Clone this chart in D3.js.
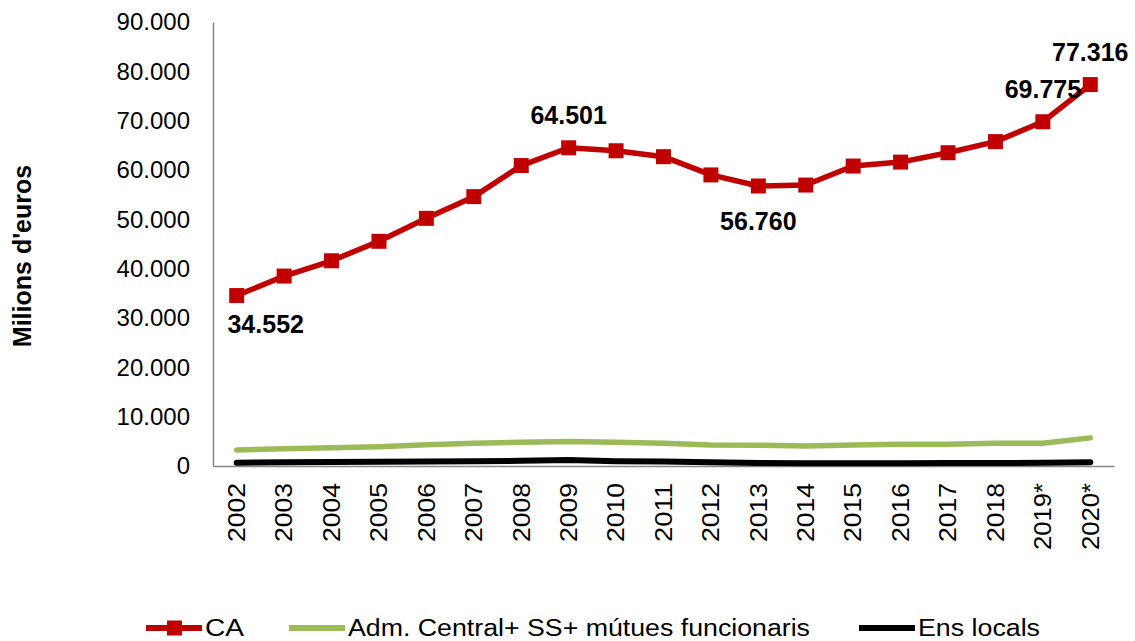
<!DOCTYPE html>
<html>
<head>
<meta charset="utf-8">
<script src="https://cdn.jsdelivr.net/npm/d3@7"></script>
<style>
  body { margin: 0; background: #fff; }
  text { font-family: Arial, "Liberation Sans", sans-serif; }
</style>
</head>
<body>
<div id="chart"></div>
<script>
// data
var years = ["2002","2003","2004","2005","2006","2007","2008","2009","2010","2011",
             "2012","2013","2014","2015","2016","2017","2018","2019*","2020*"];
var caValues = [34552, 38500, 41600, 45550, 50200, 54600, 60900, 64501, 63900, 62700,
                59000, 56760, 56950, 60800, 61600, 63500, 65750, 69775, 77316];
var admValues = [3250, 3500, 3700, 3900, 4300, 4600, 4800, 4950, 4800, 4600,
                 4250, 4200, 4050, 4250, 4400, 4400, 4600, 4600, 5700];
var ensValues = [650, 750, 800, 850, 900, 950, 1050, 1200, 950, 900,
                 750, 600, 550, 550, 550, 600, 600, 650, 750];
var yTicks = [0, 10000, 20000, 30000, 40000, 50000, 60000, 70000, 80000, 90000];
var seriesNames = ["CA", "Adm. Central+ SS+ mútues funcionaris", "Ens locals"];
var seriesColors = ["#c00000", "#9bbb59", "#000000"];
// which CA points get a label, and where the label goes
var labelIdx = [0, 7, 11, 17, 18];
var labelPos = ["below", "above", "below", "above", "above"];

var W = 1135, H = 641;
var margin = {top: 22, right: 21, bottom: 175, left: 213};

var svg = d3.select("#chart").append("svg")
    .attr("width", W)
    .attr("height", H);

var x = d3.scaleBand()
    .domain(years)
    .range([margin.left, W - margin.right]);

var y = d3.scaleLinear()
    .domain([0, 90000])
    .range([H - margin.bottom, margin.top]);

var fmt = function(v) { return d3.format(",")(v).replace(/,/g, "."); };
var cx = function(d, i) { return x(years[i]) + x.bandwidth() / 2; };

// y axis
var yAxis = svg.append("g")
    .attr("transform", "translate(" + margin.left + ",0)")
    .call(d3.axisLeft(y).tickValues(yTicks).tickFormat(fmt).tickSize(0).tickPadding(23));
yAxis.select(".domain").attr("stroke", "#868686").attr("stroke-width", 1.5);
yAxis.selectAll("text").style("font-size", "24px").attr("fill", "#000");

// x axis
var xAxis = svg.append("g")
    .attr("transform", "translate(0," + y(0) + ")")
    .call(d3.axisBottom(x).tickSize(0));
xAxis.select(".domain").attr("stroke", "#868686").attr("stroke-width", 1.5);
xAxis.selectAll("text")
    .style("font-size", "23px")
    .attr("fill", "#000")
    .attr("text-anchor", "end")
    .attr("transform", "rotate(-90)")
    .attr("x", -17)
    .attr("y", 0)
    .attr("dy", "0.36em")
    .attr("textLength", function(d) { return d.length > 4 ? 67 : 59; })
    .attr("lengthAdjust", "spacingAndGlyphs");

// y title
svg.append("text")
    .attr("transform", "translate(31,256) rotate(-90)")
    .attr("text-anchor", "middle")
    .style("font-size", "25px")
    .style("font-weight", "bold")
    .text("Milions d'euros");

var line = d3.line()
    .x(cx)
    .y(function(d) { return y(d); });

svg.append("path").datum(ensValues)
    .attr("d", line).attr("fill", "none")
    .attr("stroke", seriesColors[2]).attr("stroke-width", 6).attr("stroke-linejoin", "round")
    .attr("stroke-linecap", "round");

svg.append("path").datum(admValues)
    .attr("d", line).attr("fill", "none")
    .attr("stroke", seriesColors[1]).attr("stroke-width", 5.5).attr("stroke-linejoin", "round")
    .attr("stroke-linecap", "round");

svg.append("path").datum(caValues)
    .attr("d", line).attr("fill", "none")
    .attr("stroke", seriesColors[0]).attr("stroke-width", 5.5).attr("stroke-linejoin", "round");

svg.append("g").selectAll("rect")
    .data(caValues)
    .enter().append("rect")
    .attr("x", function(d, i) { return cx(d, i) - 7.5; })
    .attr("y", function(d) { return y(d) - 7.5; })
    .attr("width", 15)
    .attr("height", 15)
    .attr("fill", seriesColors[0]);

// data labels
svg.append("g").selectAll("text")
    .data(labelIdx)
    .enter().append("text")
    .attr("x", function(k, j) {
        var px = cx(null, k);
        if (j == 0) return px + 29;
        return px;
    })
    .attr("y", function(k, j) {
        var py = y(caValues[k]);
        if (j == 0) return py + 37;
        if (labelPos[j] == "below") return py + 44;
        return py - 24;
    })
    .attr("text-anchor", "middle")
    .style("font-size", "25px")
    .style("font-weight", "bold")
    .attr("fill", "#000")
    .text(function(k) { return fmt(caValues[k]); });

// legend
var legX = [146, 289, 859];
var textW = [39, 462, 122];
var leg = svg.append("g").selectAll("g")
    .data(seriesNames)
    .enter().append("g")
    .attr("transform", function(d, i) { return "translate(" + legX[i] + ",628)"; });

leg.append("line")
    .attr("x1", 0).attr("x2", 56)
    .attr("stroke", function(d, i) { return seriesColors[i]; })
    .attr("stroke-width", 6);

leg.filter(function(d, i) { return i == 0; })
    .append("rect")
    .attr("x", 21).attr("y", -7.5).attr("width", 15).attr("height", 15)
    .attr("fill", seriesColors[0]);

leg.append("text")
    .attr("x", 59)
    .attr("y", 8)
    .attr("textLength", function(d, i) { return textW[i]; })
    .attr("lengthAdjust", "spacingAndGlyphs")
    .style("font-size", "23px")
    .attr("fill", "#000")
    .text(function(d) { return d; });
</script>
</body>
</html>
